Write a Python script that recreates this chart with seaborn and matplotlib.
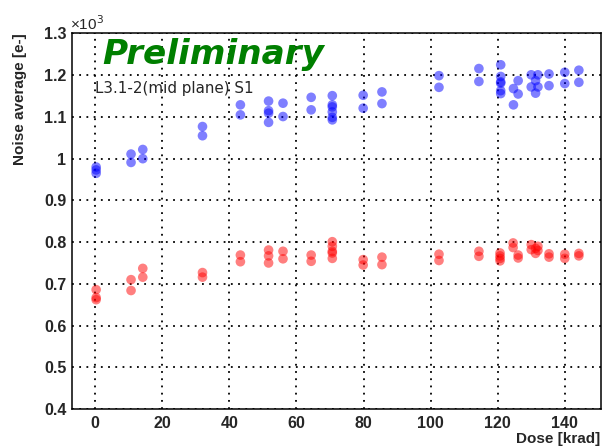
import matplotlib
matplotlib.use("Agg")
import matplotlib.pyplot as plt
from matplotlib.ticker import MultipleLocator
import seaborn as sns
import pandas as pd

# ---- data (noise in units of 10^3 e-) ----
blue_dose = [0.3, 0.3, 0.3, 10.7, 10.7, 14.2, 14.2, 32.0, 32.0, 43.3, 43.3,
             51.7, 51.7, 51.7, 51.7, 56.0, 56.0, 64.4, 64.4,
             70.7, 70.7, 70.7, 70.7, 70.7, 70.7, 79.9, 79.9, 85.5, 85.5,
             102.5, 102.5, 114.4, 114.4,
             120.9, 120.9, 120.9, 120.9, 120.9, 120.9, 124.7, 124.7, 126.1, 126.1,
             130.0, 130.0, 131.3, 131.3, 132.0, 132.0, 135.3, 135.3,
             140.0, 140.0, 144.2, 144.2]
blue_noise = [0.980, 0.973, 0.965, 1.011, 0.991, 1.022, 1.000, 1.077, 1.055, 1.129, 1.105,
              1.138, 1.115, 1.109, 1.087, 1.133, 1.101, 1.147, 1.117,
              1.151, 1.129, 1.124, 1.112, 1.099, 1.093, 1.152, 1.121, 1.160, 1.132,
              1.199, 1.171, 1.216, 1.185,
              1.225, 1.197, 1.184, 1.181, 1.163, 1.156, 1.168, 1.129, 1.187, 1.155,
              1.201, 1.172, 1.187, 1.157, 1.201, 1.172, 1.203, 1.175,
              1.207, 1.180, 1.212, 1.183]

red_dose = [0.3, 0.3, 0.3, 10.7, 10.7, 14.2, 14.2, 32.0, 32.0, 43.3, 43.3,
            51.7, 51.7, 51.7, 56.0, 56.0, 64.4, 64.4,
            70.7, 70.7, 70.7, 70.7, 70.7, 79.9, 79.9, 85.5, 85.5,
            102.5, 102.5, 114.4, 114.4,
            120.7, 120.7, 120.7, 120.7, 124.6, 124.6, 126.1, 126.1,
            130.0, 130.0, 131.3, 131.3, 132.0, 132.0, 135.3, 135.3,
            140.0, 140.0, 144.2, 144.2]
red_noise = [0.686, 0.667, 0.662, 0.710, 0.684, 0.737, 0.716, 0.727, 0.716, 0.769, 0.753,
             0.781, 0.767, 0.750, 0.778, 0.760, 0.769, 0.754,
             0.801, 0.790, 0.778, 0.774, 0.761, 0.758, 0.745, 0.764, 0.746,
             0.771, 0.756, 0.778, 0.766,
             0.774, 0.767, 0.761, 0.755, 0.798, 0.787, 0.769, 0.762,
             0.794, 0.782, 0.785, 0.773, 0.790, 0.780, 0.772, 0.764,
             0.771, 0.761, 0.773, 0.767]

x_ticks = [0, 20, 40, 60, 80, 100, 120, 140]
y_ticks = [0.4, 0.5, 0.6, 0.7, 0.8, 0.9, 1.0, 1.1, 1.2, 1.3]
y_tick_labels = ["0.4", "0.5", "0.6", "0.7", "0.8", "0.9", "1", "1.1", "1.2", "1.3"]

blue_df = pd.DataFrame({"dose": blue_dose, "noise": blue_noise})
red_df = pd.DataFrame({"dose": red_dose, "noise": red_noise})

sns.set_style("white")
plt.rcParams["font.family"] = ["Liberation Sans", "DejaVu Sans"]

W, H = 603, 448
fig = plt.figure(figsize=(W / 100, H / 100), dpi=100)
L, R, T, B = 72, 601, 33.5, 409
ax = fig.add_axes([L / W, 1 - B / H, (R - L) / W, (B - T) / H])

sns.scatterplot(data=blue_df, x="dose", y="noise", ax=ax, color="#0000ff",
                alpha=0.5, s=48, edgecolor="none", zorder=3)
sns.scatterplot(data=red_df, x="dose", y="noise", ax=ax, color="#ff0000",
                alpha=0.5, s=48, edgecolor="none", zorder=3)

ax.set_xlim(-6.9, 150.8)
ax.set_ylim(0.4, 1.3)
ax.set_xticks(x_ticks)
ax.set_yticks(y_ticks)
ax.set_yticklabels(y_tick_labels)
ax.xaxis.set_minor_locator(MultipleLocator(5))
ax.yaxis.set_minor_locator(MultipleLocator(0.02))
ax.set_xlabel("")
ax.set_ylabel("")

ax.grid(True, which="major", color="black", linestyle=(0, (1, 3)), linewidth=1.3)
ax.set_axisbelow(True)

for sp in ax.spines.values():
    sp.set_color("black")
    sp.set_linewidth(1.1)

ax.tick_params(axis="y", which="major", direction="in", length=11, width=1.1,
               labelsize=11.5, pad=4, right=False)
ax.tick_params(axis="y", which="minor", direction="in", length=5.5, width=1.0, right=False)
ax.tick_params(axis="x", which="major", direction="in", length=8, width=1.1,
               labelsize=11.5, pad=5, top=False)
ax.tick_params(axis="x", which="minor", direction="in", length=4, width=1.0, top=False)
for lab in ax.get_xticklabels() + ax.get_yticklabels():
    lab.set_fontweight("bold")

# axis titles
fig.text(600 / W, 1 - 439 / H, "Dose [krad]", ha="right", va="center",
         fontsize=11, fontweight="bold")
fig.text(20 / W, 1 - 33 / H, "Noise average [e-]", ha="center", va="top",
         rotation=90, fontsize=11, fontweight="bold")
fig.text(70 / W, 1 - 33 / H, "\u00d710$^{3}$", ha="left", va="bottom", fontsize=11)

# annotations
fig.text(102 / W, 1 - 64 / H, "Preliminary", ha="left", va="baseline",
         fontsize=24.7, fontweight="bold", fontstyle="oblique", color="#007f00",
         family="DejaVu Sans")
fig.text(95 / W, 1 - 88 / H, "L3.1-2(mid plane) S1", ha="left", va="center",
         fontsize=10.9, family="DejaVu Sans")

fig.savefig("out.png", dpi=100)
